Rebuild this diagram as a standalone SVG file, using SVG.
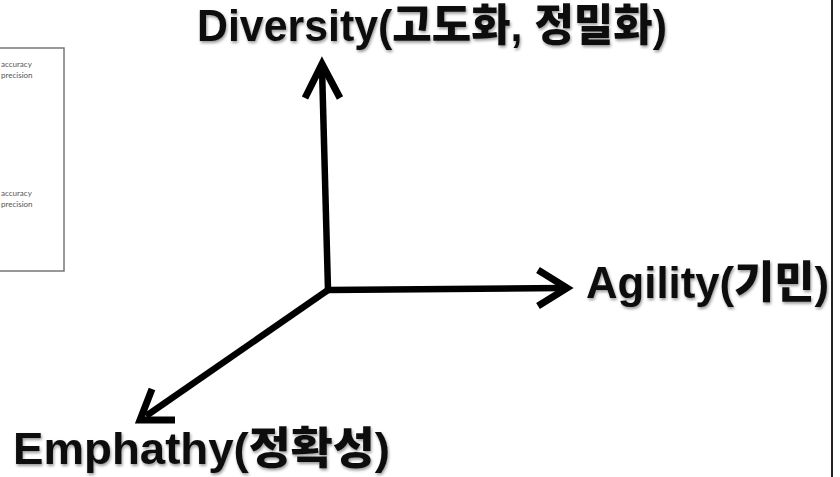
<svg xmlns="http://www.w3.org/2000/svg" width="840" height="477" viewBox="0 0 840 477">
<defs>
<style>
.lbl{font-family:"Liberation Sans","Noto Sans CJK KR",sans-serif;font-weight:900;font-size:44px;fill:#111}
.axis{stroke:#000;stroke-width:6.5;fill:none;stroke-linecap:butt}
.head{stroke:#000;stroke-width:7;fill:none;stroke-linejoin:miter;stroke-linecap:butt}
.small{font-family:"Lato","Open Sans",sans-serif;font-size:8px;fill:#555}
</style>
<filter id="sh" x="-5%" y="-20%" width="110%" height="150%">
<feGaussianBlur in="SourceAlpha" stdDeviation="1.5"/>
<feOffset dx="1" dy="2" result="b"/>
<feComponentTransfer><feFuncA type="linear" slope="0.4"/></feComponentTransfer>
<feMerge><feMergeNode/><feMergeNode in="SourceGraphic"/></feMerge>
</filter>
</defs>
<rect width="840" height="477" fill="#fff"/>
<g id="inset">
<rect x="-2" y="48" width="66" height="223" fill="#fff" stroke="#777" stroke-width="1.5"/>
<text class="small" x="1" y="67">accuracy</text>
<text class="small" x="1" y="78">precision</text>
<text class="small" x="1" y="196">accuracy</text>
<text class="small" x="1" y="207">precision</text>
</g>
<line x1="832" y1="0" x2="832" y2="477" stroke="#222" stroke-width="2"/>
<g id="connectors">
<path class="axis" d="M328,290 L322,68"/>
<path class="head" d="M305,98 L322,64 L340,98"/>
<path class="axis" d="M328,290 L564,288"/>
<path class="head" d="M538,270 L567,288 L538,306"/>
<path class="axis" d="M328,290 L146,416"/>
<path class="head" d="M152,389 L140,420 L175,420"/>
</g>
<g id="diversity" filter="url(#sh)">
<text class="lbl" x="197" y="41" textLength="470" lengthAdjust="spacingAndGlyphs">Diversity(고도화, 정밀화)</text>
</g>
<g id="agility" filter="url(#sh)">
<text class="lbl" x="586" y="298" textLength="243" lengthAdjust="spacingAndGlyphs">Agility(기민)</text>
</g>
<g id="empathy" filter="url(#sh)">
<text class="lbl" x="13" y="464" textLength="377" lengthAdjust="spacingAndGlyphs">Emphathy(정확성)</text>
</g>
</svg>
